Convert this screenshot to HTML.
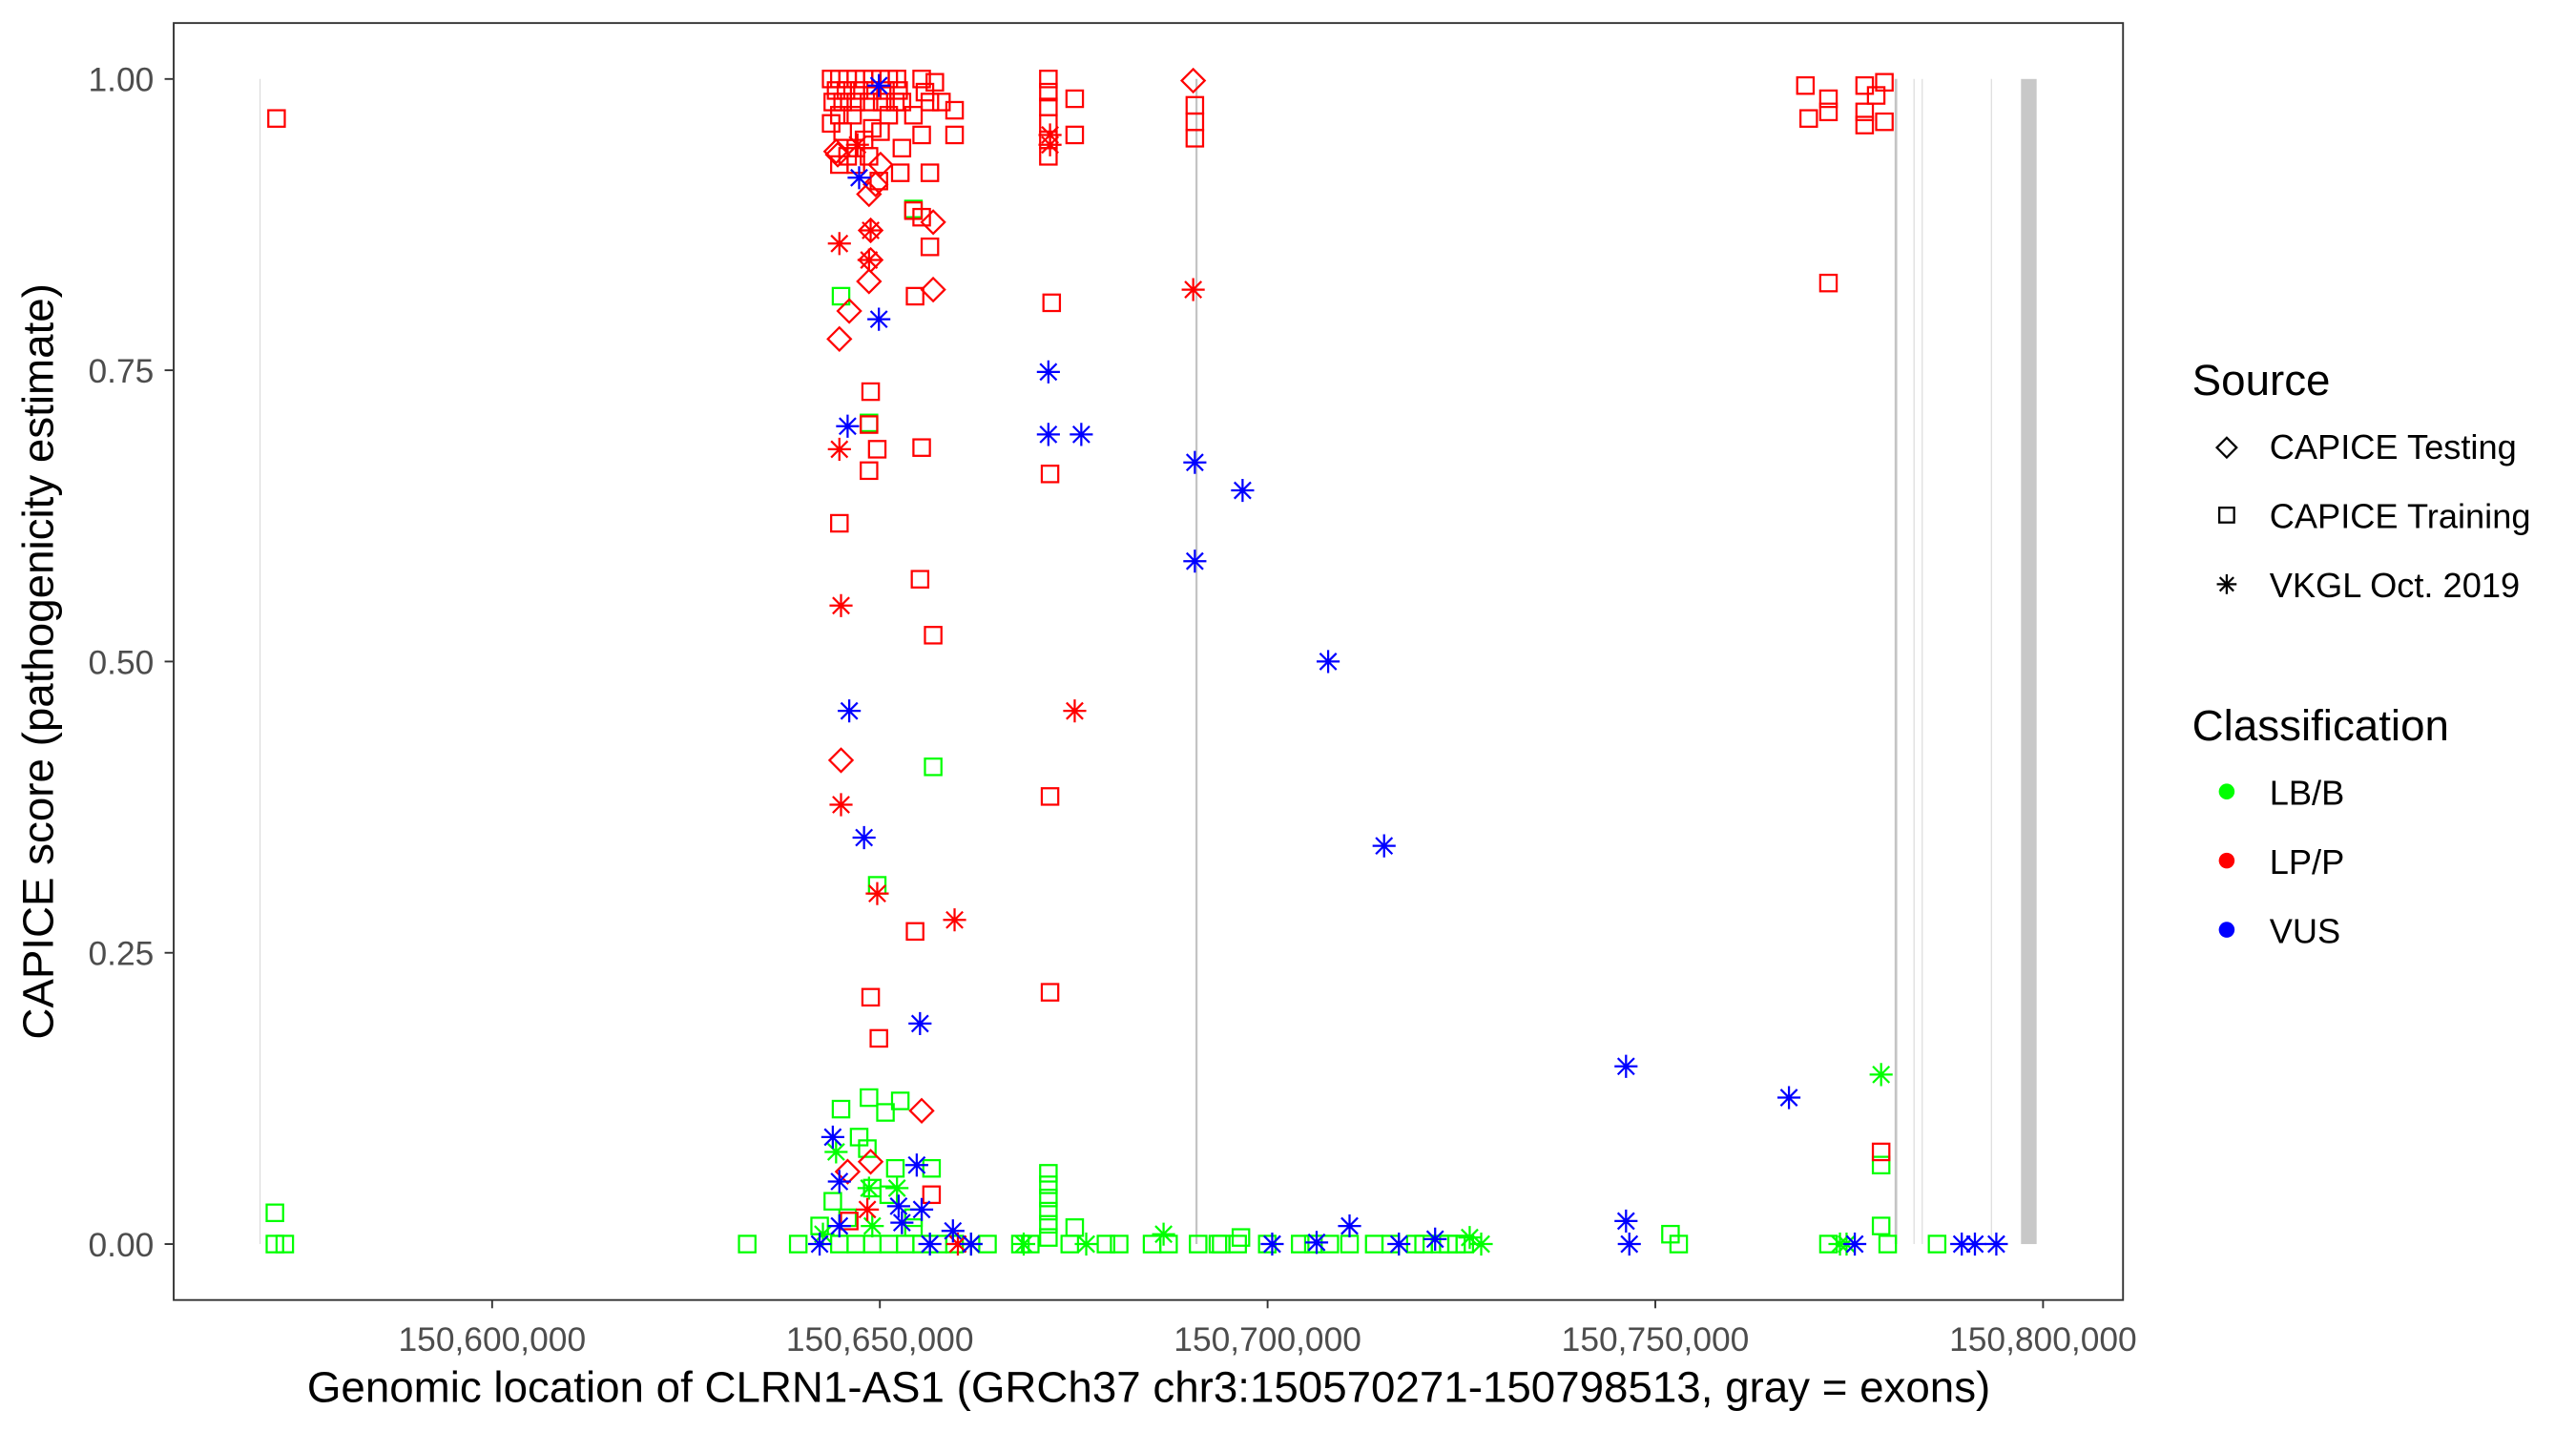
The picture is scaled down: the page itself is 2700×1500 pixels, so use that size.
<!DOCTYPE html>
<html><head><meta charset="utf-8"><style>
html,body{margin:0;padding:0;background:#fff;}
svg{display:block;}
text{font-family:"Liberation Sans",sans-serif;}
</style></head><body>
<svg id="s" width="2700" height="1500" viewBox="0 0 1565.2 869.6" xmlns="http://www.w3.org/2000/svg">
<rect width="1565.2" height="869.6" fill="#fff"/>
<g stroke="#d6d6d6" stroke-width="0.6">
<line x1="158" y1="48" x2="158" y2="756"/>
<line x1="1163" y1="48" x2="1163" y2="756"/>
<line x1="1168" y1="48" x2="1168" y2="756"/>
<line x1="1210" y1="48" x2="1210" y2="756"/>
</g>
<line x1="727" y1="48" x2="727" y2="756" stroke="#c4c4c4" stroke-width="1.3"/>
<line x1="1152" y1="48" x2="1152" y2="756" stroke="#c4c4c4" stroke-width="1.6"/>
<rect x="1228" y="48" width="9.5" height="708" fill="#c8c8c8"/>
<g id="pts" fill="none" stroke-width="1.3"></g>
<rect x="105.5" y="14" width="1184.5" height="776" fill="none" stroke="#333" stroke-width="1.1"/>
<g stroke="#333" stroke-width="1.1">
<line x1="100" y1="48" x2="105" y2="48"/><line x1="100" y1="225" x2="105" y2="225"/>
<line x1="100" y1="402" x2="105" y2="402"/><line x1="100" y1="579" x2="105" y2="579"/>
<line x1="100" y1="756" x2="105" y2="756"/>
<line x1="299" y1="790" x2="299" y2="795"/><line x1="534.6" y1="790" x2="534.6" y2="795"/>
<line x1="770.2" y1="790" x2="770.2" y2="795"/><line x1="1005.8" y1="790" x2="1005.8" y2="795"/>
<line x1="1241.4" y1="790" x2="1241.4" y2="795"/>
</g>
<g fill="#4d4d4d" font-size="20.5" text-anchor="end">
<text x="93.5" y="55.5">1.00</text><text x="93.5" y="232.5">0.75</text><text x="93.5" y="409.5">0.50</text>
<text x="93.5" y="586.5">0.25</text><text x="93.5" y="763.5">0.00</text>
</g>
<g fill="#4d4d4d" font-size="20.5" text-anchor="middle">
<text x="299" y="821">150,600,000</text><text x="534.6" y="821">150,650,000</text>
<text x="770.2" y="821">150,700,000</text><text x="1005.8" y="821">150,750,000</text>
<text x="1241.4" y="821">150,800,000</text>
</g>
<text x="698" y="852" font-size="26.5" text-anchor="middle" fill="#000">Genomic location of CLRN1-AS1 (GRCh37 chr3:150570271-150798513, gray = exons)</text>
<text transform="translate(32,402) rotate(-90)" font-size="26.5" text-anchor="middle" fill="#000">CAPICE score (pathogenicity estimate)</text>
<text x="1332" y="240" font-size="26.5" fill="#000">Source</text>
<text x="1379" y="279" font-size="21" fill="#000">CAPICE Testing</text>
<text x="1379" y="321" font-size="21" fill="#000">CAPICE Training</text>
<text x="1379" y="363" font-size="21" fill="#000">VKGL Oct. 2019</text>
<text x="1332" y="450" font-size="26.5" fill="#000">Classification</text>
<text x="1379" y="489" font-size="21" fill="#000">LB/B</text>
<text x="1379" y="531" font-size="21" fill="#000">LP/P</text>
<text x="1379" y="573" font-size="21" fill="#000">VUS</text>
<g fill="none" stroke="#000" stroke-width="1.3">
<polygon points="1353,266 1359,272 1353,278 1347,272"/>
<rect x="1348.5" y="308.5" width="9" height="9"/>
<path d="M1353,349V361M1347,355H1359M1348.8,350.8L1357.2,359.2M1348.8,359.2L1357.2,350.8"/>
</g>
<circle cx="1353" cy="481" r="4.8" fill="#00ff00"/>
<circle cx="1353" cy="523" r="4.8" fill="#ff0000"/>
<circle cx="1353" cy="565" r="4.8" fill="#0000ff"/>
</svg>
<script>
var C={g:"#00ff00",r:"#ff0000",b:"#0000ff"};
var D={
rs:[[168,72],[505,48],[510,48],[515,48],[520,48],[525,48],[530,48],[535,48],[540,48],[545,48],[508,55],[514,55],[522,55],[530,55],[538,55],[546,55],[506,62],[512,62],[520,62],[528,62],[536,62],[544,62],[510,70],[512,80],[520,90],[510,100],[530,78],[540,70],[548,62],[560,48],[562,56],[565,62],[568,50],[572,62],[580,67],[580,82],[560,82],[565,105],[547,105],[534,110],[555,128],[560,132],[565,150],[556,180],[535,80],[528,95],[520,100],[515,95],[637,48],[637,56],[637,65],[637,75],[637,85],[637,95],[653,60],[653,82],[639,184],[726,64],[726,74],[726,84],[1097,52],[1099,72],[1111,60],[1111,68],[1133,52],[1145,50],[1140,58],[1133,68],[1133,76],[1145,74],[1111,172],[529,238],[528,258],[533,273],[560,272],[528,286],[510,318],[559,352],[567,386],[638,288],[638,484],[556,566],[529,606],[534,631],[638,603],[1143,700],[566,726],[516,742],[505,75],[518,70],[525,85],[548,90],[555,70]],
rd:[[508,92],[535,100],[532,112],[529,140],[529,158],[528,171],[516,189],[510,206],[567,135],[567,176],[725,49],[511,462],[560,675],[529,706],[515,712],[509,94],[528,118]],
ra:[[510,148],[529,140],[528,158],[638,88],[638,82],[725,176],[510,273],[511,368],[511,489],[533,543],[580,559],[653,432],[527,735],[582,756],[521,88]],
ba:[[534,52],[522,108],[534,194],[637,226],[637,264],[657,264],[726,281],[755,298],[726,341],[807,402],[841,514],[515,259],[516,432],[525,509],[559,622],[506,691],[557,708],[510,718],[510,745],[546,733],[560,735],[579,748],[590,756],[498,756],[820,745],[850,756],[872,753],[800,755],[773,756],[988,648],[988,742],[990,756],[1087,667],[1127,756],[1192,756],[1200,756],[1213,756],[548,743],[565,756]],
gs:[[167,737],[167,756],[173,756],[454,756],[485,756],[498,745],[555,127],[511,180],[567,466],[533,538],[528,257],[511,674],[528,667],[538,676],[547,669],[522,691],[527,698],[544,710],[566,710],[637,713],[637,720],[637,728],[637,736],[637,744],[637,752],[653,746],[1143,745],[1147,756],[1143,708],[1177,756],[1015,750],[1020,756],[1111,756],[710,756],[728,756],[740,756],[754,752],[790,756],[808,756],[820,756],[835,756],[860,756],[880,756],[890,756],[700,756],[620,756],[626,756],[650,756],[506,730],[515,740],[530,722],[540,726],[555,740],[600,756],[555,746],[510,756],[520,756],[530,756],[540,756],[550,756],[560,756],[570,756],[580,756],[680,756],[672,756],[742,756],[752,756],[770,756],[798,756],[845,756],[865,756],[875,756],[885,756]],
ga:[[1143,653],[508,700],[528,722],[545,722],[707,750],[900,756],[1118,756],[1122,756],[590,756],[660,756],[622,756],[530,745],[500,750],[893,752]]
};
var g=document.getElementById("pts"),h="";
["gs","rs","rd","ga","ra","ba"].forEach(function(k){
 var col=C[k[0]],t=k[1];
 D[k].forEach(function(p){
  var x=p[0],y=p[1];
  if(t=="s")h+='<rect x="'+(x-5)+'" y="'+(y-5)+'" width="10" height="10" stroke="'+col+'"/>';
  else if(t=="d")h+='<polygon points="'+x+','+(y-7)+' '+(x+7)+','+y+' '+x+','+(y+7)+' '+(x-7)+','+y+'" stroke="'+col+'"/>';
  else h+='<path d="M'+x+','+(y-7)+'V'+(y+7)+'M'+(x-7)+','+y+'H'+(x+7)+'M'+(x-5)+','+(y-5)+'L'+(x+5)+','+(y+5)+'M'+(x-5)+','+(y+5)+'L'+(x+5)+','+(y-5)+'" stroke="'+col+'"/>';
 });
});
g.innerHTML=h;
</script>
</body></html>
